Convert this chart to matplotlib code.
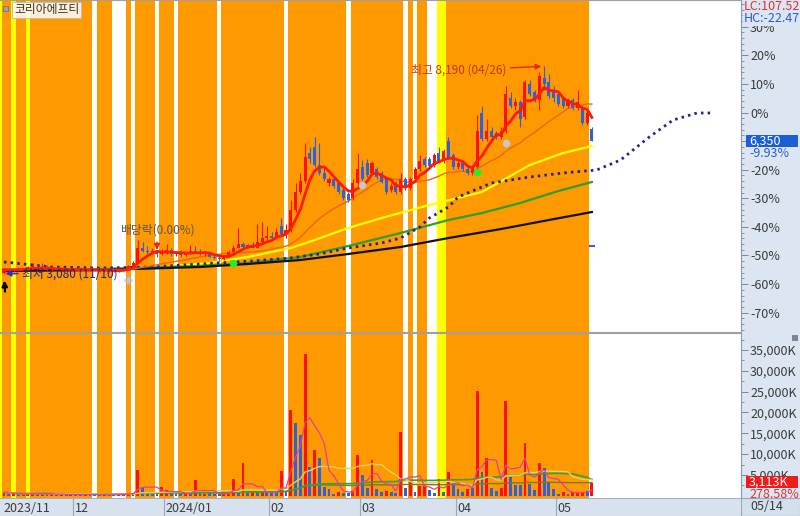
import matplotlib
matplotlib.use("Agg")
import matplotlib.pyplot as plt
from matplotlib.patches import Rectangle
import numpy as np
import pandas as pd

plt.rcParams['font.family'] = ['Liberation Sans Narrow', 'Noto Sans CJK KR', 'DejaVu Sans']

# ---------------- data ----------------
stock_name = "코리아에프티"
base_price = 7050          # previous close = 0% of the right axis
last_label = "6,350"
last_pct_label = "-9.93%"
lc_label = "LC:107.52"
hc_label = "HC:-22.47"
vol_label = "3,113K"
vol_pct_label = "278.58%"
last_date_label = "05/14"

month_labels = ["2023/11", "12", "2024/01", "02", "03", "04", "05"]
month_start = [0, 15, 34, 56, 75, 95, 116]

open_ = [3100, 3180, 3160, 3190, 3170, 3200, 3230, 3250, 3190, 3230, 3170, 3200, 3180, 3190, 3170,
         3180, 3170, 3160, 3180, 3170, 3160, 3150, 3160, 3150, 3140, 3150, 3200, 3270, 3340, 3720,
         3640, 3600, 3620, 3560,
         3620, 3650, 3560, 3600, 3540, 3580, 3640, 3610, 3570, 3600, 3500, 3460, 3440, 3500, 3620,
         3720, 3800, 3740, 3780, 3720, 3850, 3950,
         4000, 3950, 4250, 4050, 4150, 4650, 5100, 5350, 6050, 6200, 5750, 5550, 5300, 5400, 5300,
         5150, 5050, 4950, 5300,
         5700, 5800, 5550, 5650, 5550, 5400, 5150, 5300, 5100, 5400, 5200, 5400, 5650, 5900, 5900,
         5750, 6050, 5850, 6350, 6000,
         5700, 5800, 5650, 5550, 5700, 7050, 6400, 6600, 6550, 6450, 6600, 7400, 7200, 7300, 6950,
         7750, 7550, 7350, 7900, 7800, 7550,
         7500, 7400, 7200, 7350, 7150, 7150, 6800, 6650]
high_ = [3200, 3220, 3200, 3230, 3210, 3260, 3330, 3300, 3340, 3280, 3220, 3230, 3210, 3220, 3200,
         3210, 3200, 3200, 3200, 3190, 3180, 3180, 3180, 3170, 3170, 3220, 3300, 3380, 3900, 3850,
         3760, 3700, 3660, 3680,
         3800, 3700, 3640, 3650, 3620, 3780, 3750, 3680, 3640, 3620, 3560, 3520, 3520, 3650, 3780,
         4200, 3850, 3820, 3850, 4300, 4350, 4250,
         4100, 4200, 4450, 4300, 4900, 5300, 5550, 6300, 6200, 6450, 6300, 5700, 5450, 5450, 5350,
         5200, 5100, 5400, 6050,
         5870, 5900, 5850, 5700, 5600, 5450, 5300, 5350, 5550, 5450, 5450, 5700, 6000, 5950, 5950,
         6050, 6200, 6150, 6450, 6050,
         5850, 5850, 5750, 5750, 7000, 7200, 6900, 6700, 6600, 6700, 7700, 7550, 7400, 7350, 7850,
         7850, 7600, 8050, 8190, 8000, 7700,
         7550, 7450, 7400, 7400, 7600, 7200, 7100, 6700]
low_ = [3080, 3140, 3130, 3150, 3140, 3170, 3200, 3170, 3180, 3150, 3150, 3160, 3150, 3160, 3150,
        3150, 3140, 3140, 3150, 3140, 3130, 3120, 3130, 3120, 3110, 3140, 3180, 3250, 3330, 3600,
        3560, 3550, 3480, 3540,
        3560, 3520, 3520, 3500, 3510, 3560, 3580, 3540, 3520, 3480, 3430, 3400, 3420, 3480, 3600,
        3700, 3700, 3700, 3700, 3700, 3820, 3900,
        3900, 3930, 4000, 3950, 4100, 4600, 5050, 5300, 5800, 5700, 5500, 5350, 5250, 5200, 5050,
        4900, 4850, 4900, 5250,
        5350, 5450, 5500, 5400, 5300, 5050, 5100, 5050, 5050, 5150, 5150, 5350, 5600, 5700, 5650,
        5700, 5800, 5800, 5900, 5650,
        5650, 5600, 5500, 5500, 5650, 6350, 6350, 6400, 6400, 6400, 6550, 7150, 7100, 6700, 6900,
        7450, 7300, 7100, 7600, 7400, 7300,
        7200, 7150, 7150, 7100, 7100, 6750, 6750, 6350]
close_ = [3180, 3160, 3190, 3170, 3200, 3230, 3250, 3190, 3230, 3170, 3200, 3180, 3190, 3170, 3180,
          3170, 3160, 3180, 3170, 3160, 3150, 3160, 3150, 3140, 3150, 3200, 3270, 3340, 3720, 3640,
          3600, 3620, 3560, 3620,
          3650, 3560, 3600, 3540, 3580, 3640, 3610, 3570, 3600, 3500, 3460, 3440, 3500, 3620, 3720,
          3800, 3740, 3780, 3720, 3850, 3950, 4000,
          3950, 4100, 4050, 4150, 4650, 5100, 5350, 5950, 5900, 5750, 5550, 5400, 5400, 5250, 5100,
          4950, 4900, 5300, 5650,
          5420, 5500, 5800, 5450, 5330, 5100, 5250, 5100, 5400, 5200, 5400, 5650, 5850, 5750, 5720,
          6000, 5850, 6100, 5950, 5700,
          5800, 5650, 5550, 5700, 6600, 6400, 6600, 6450, 6450, 6600, 7500, 7200, 7300, 6900, 7800,
          7500, 7350, 7950, 7750, 7450, 7400,
          7250, 7200, 7350, 7150, 7300, 6800, 7050, 6350]

# volume in thousands of shares, and bar colour code (r / b)
volume_k = [900, 500, 400, 350, 450, 600, 700, 400, 650, 400, 350, 300, 350, 300, 300,
            300, 250, 300, 250, 200, 250, 300, 250, 200, 300, 450, 600, 700, 6100, 2200,
            800, 700, 600, 2000,
            1300, 600, 500, 500, 400, 600, 3900, 700, 500, 600, 500, 400, 600, 900, 4100,
            800, 7800, 700, 800, 900, 1000, 800,
            700, 800, 5900, 1200, 20700, 17500, 14600, 34100, 6800, 11000, 9000, 2000, 1700, 500, 1000,
            700, 700, 1200, 9800,
            4900, 1900, 8500, 1700, 1000, 1200, 1000, 700, 15400, 1900, 3600, 900, 2400, 2400, 1300,
            700, 4100, 1000, 5600, 3100,
            1700, 800, 1700, 1800, 25100, 5600, 9000, 1900, 1200, 1900, 22700, 4400, 2700, 2700, 12700,
            2900, 1300, 7800, 6600, 3200, 1700,
            500, 900, 500, 800, 900, 1000, 1117, 3113]
volume_dir = ("rbrbrrrbrbrbrbr" "bbrbbbrbbrrrrrb" "bbbr"
              "rbbbrbrbrbbbrrrbrbrbrb"
              "bbrbrbbrbrbbbbr" "bbrr"
              "bbrbbrbbrbrbrrbbrbrb"
              "bbrbrbrbbrrbbbrbbrbbb"
              "brbrrrbr")

# background signal colour per bar (default orange)
white_bars = [19, 23, 24, 25, 27, 32, 36, 45, 59, 72, 84, 86, 89, 90, 123]
yellow_bars = [2, 5, 91, 92]
bg_before_first = "y"

# long moving averages / shifted line at sample bars
ma60_idx = [0, 20, 33, 43, 51, 60, 65, 72, 79, 89, 100, 110, 117, 123]
ma60_val = [3167, 3192, 3242, 3340, 3488, 3710, 3907, 4203, 4449, 4770, 5090, 5756, 6052, 6224]
ma120_idx = [0, 20, 41, 51, 62, 72, 83, 93, 100, 108, 116, 123]
ma120_val = [3167, 3192, 3266, 3340, 3488, 3759, 4080, 4400, 4572, 4819, 5115, 5337]
ma240_idx = [0, 20, 41, 51, 62, 72, 83, 93, 104, 114, 123]
ma240_val = [3143, 3167, 3242, 3316, 3414, 3562, 3735, 3956, 4178, 4400, 4597]
lead_idx = [0, 10, 20, 31, 41, 52, 60, 66, 72, 79, 83, 87, 89, 93, 95, 102, 110, 117, 124, 129,
            135, 140, 145, 148]
lead_val = [3365, 3242, 3217, 3242, 3316, 3390, 3464, 3562, 3710, 3833, 3956, 4228, 4449, 4721,
            4967, 5312, 5460, 5559, 5633, 5879, 6446, 6865, 7038, 7038]

# signal markers (bar index, price)
green_sig = [(48, 3340), (99, 5583)]
gray_sig = [(75, 5263), (105, 6298)]
cross_sig = [(26, 2921)]
blue_tick = [(123, 3759)]
exdiv_idx = 32

pct_ticks = [30, 20, 10, 0, -10, -20, -30, -40, -50, -60, -70]
pct_hidden = [-10]          # covered by the last-price box in the reference
vol_ticks = [5000, 10000, 15000, 20000, 25000, 30000, 35000]

# ---------------- layout ----------------
W, H = 800, 516
fig = plt.figure(figsize=(W / 100, H / 100), dpi=100)
fig.patch.set_facecolor('white')

def fx(px):
    return px / W

def fy(py):
    return 1 - py / H

CHART_R = 741
ax = fig.add_axes([0, fy(332), fx(CHART_R), 332 / H])
axv = fig.add_axes([0, fy(498), fx(CHART_R), (498 - 333) / H])
axd = fig.add_axes([0, 0, fx(CHART_R), 18 / H])

panel_bg = '#DCE6F2'
fig.add_artist(Rectangle((fx(CHART_R), 0), 1 - fx(CHART_R), 1, transform=fig.transFigure,
                         facecolor=panel_bg, edgecolor='none', zorder=-5))
fig.add_artist(Rectangle((fx(CHART_R), 0), 1 - fx(CHART_R), 18 / H, transform=fig.transFigure,
                         facecolor='#D4DFEC', edgecolor='#9AA8BA', lw=0.8, zorder=-4))

n = len(close_)
idx = np.arange(n)
o = np.array(open_, float)
hi = np.array(high_, float)
lo = np.array(low_, float)
c = np.array(close_, float)

XL = (-0.837, 154.2)
PY = ((1 - 0.7675) * base_price, (1 + 0.3934) * base_price)
VY = (-528, 39070)

# background stripes (runs of same colour)
bg_codes = ['o'] * n
for i in white_bars:
    bg_codes[i] = 'w'
for i in yellow_bars:
    bg_codes[i] = 'y'
cmap_bg = {'o': '#FF9900', 'w': '#FFFFFF', 'y': '#FFFF00'}
for a in (ax, axv):
    a.axvspan(-1.5, -0.5, color=cmap_bg[bg_before_first], lw=0, zorder=0)
    start = 0
    for i in range(1, n + 1):
        if i == n or bg_codes[i] != bg_codes[start]:
            a.axvspan(start - 0.5, i - 0.5, color=cmap_bg[bg_codes[start]], lw=0, zorder=0)
            start = i

# ---------------- price panel ----------------
RED = '#FF1010'
BLUE = '#2F62D8'
up = c >= o
ccol = np.where(up, RED, BLUE)
ax.plot(ma60_idx, ma60_val, color='#FFFF00', lw=1.6, zorder=2)
ax.plot(ma120_idx, ma120_val, color='#2E9E2E', lw=1.6, zorder=2)
ax.plot(ma240_idx, ma240_val, color='#111111', lw=1.6, zorder=2)
ax.plot(lead_idx, lead_val, color='#23239B', lw=2.0, dashes=(0.9, 1.5), zorder=2)

ma20 = pd.Series(c).rolling(20, min_periods=1).mean()
ax.plot(idx, ma20, color='#F06510', lw=1.0, zorder=2.5)

ax.vlines(idx, lo, hi, colors=ccol, lw=0.8, zorder=3)
ax.bar(idx, np.maximum(np.abs(c - o), 25), bottom=np.minimum(o, c), width=0.64,
       color=ccol, lw=0, zorder=3)

ma5 = pd.Series(c).rolling(5, min_periods=1).mean()
ax.plot(idx, ma5, color='#FF1A00', lw=2.0, zorder=4)

for (xi, yv) in green_sig:
    ax.plot(xi, yv, 'o', ms=5.5, color='#22EE22', mec='none', zorder=5)
for (xi, yv) in gray_sig:
    ax.plot(xi, yv, 'o', ms=5.5, color='#C8C8C8', mec='none', zorder=5)
for (xi, yv) in cross_sig:
    ax.plot(xi, yv, '+', ms=6, mew=2, color='#B8C4D8', zorder=5)
for (xi, yv) in blue_tick:
    ax.plot(xi, yv, '_', ms=4, mew=1.5, color='#2F62D8', zorder=5)

kr = ['Liberation Sans Narrow', 'Noto Sans CJK KR', 'DejaVu Sans']
hi_i = int(np.argmax(hi))
lo_i = int(np.argmin(lo))
ax.annotate(f"최고 {hi[hi_i]:,.0f} (04/26)", xy=(hi_i, hi[hi_i]), xytext=(-38, -4),
            textcoords='offset pixels', ha='right', va='center', fontsize=8.5, color='#C0392B',
            family=kr, zorder=6,
            arrowprops=dict(arrowstyle='-|>', color='#E8281E', lw=1.0, shrinkA=1, shrinkB=2,
                            mutation_scale=8))
ax.annotate(f"최저 {lo[lo_i]:,.0f} (11/10)", xy=(lo_i, lo[lo_i]), xytext=(18, 0),
            textcoords='offset pixels', ha='left', va='center', fontsize=8.5, color='#202090',
            family=kr, zorder=6,
            arrowprops=dict(arrowstyle='-|>', color='#2035D0', lw=1.2, shrinkA=1, shrinkB=1,
                            mutation_scale=8))
ax.annotate('', xy=(lo_i, lo[lo_i]), xytext=(1, -18), textcoords='offset pixels',
            arrowprops=dict(arrowstyle='-|>', color='black', lw=1.6, shrinkA=0, shrinkB=5,
                            mutation_scale=8), zorder=6)
ax.annotate("배당락(0.00%)", xy=(exdiv_idx, hi[exdiv_idx]), xytext=(0, 20),
            textcoords='offset pixels', ha='center', va='center', fontsize=8.5, color='#555555',
            family=kr, zorder=6,
            arrowprops=dict(arrowstyle='-|>', color='#E8281E', lw=1.0, shrinkA=2, shrinkB=0,
                            mutation_scale=9))

ax.set_xlim(*XL)
ax.set_ylim(*PY)
ax.yaxis.tick_right()
ax.set_yticks([base_price * (1 + p / 100) for p in pct_ticks])
ax.set_yticklabels(["" if p in pct_hidden else f"{p}%" for p in pct_ticks])
ax.set_yticks([base_price * (1 + p / 100) for p in range(-76, 40, 2)], minor=True)
ax.set_xticks([])

# ---------------- volume panel ----------------
vcol = [RED if d == 'r' else BLUE for d in volume_dir]
v = np.array(volume_k, float)
axv.bar(idx, v, width=0.6, color=vcol, lw=0, zorder=3)
vs = pd.Series(v)
axv.plot(idx, vs.rolling(120, min_periods=1).mean(), color='#7A7A28', lw=1.0, zorder=4)
axv.plot(idx, vs.rolling(60, min_periods=1).mean(), color='#3C9E3C', lw=1.2, zorder=4)
axv.plot(idx, vs.rolling(20, min_periods=1).mean(), color='#E6D25A', lw=1.0, zorder=4)
axv.plot(idx, vs.rolling(5, min_periods=1).mean(), color='#E0409F', lw=0.9, zorder=4)
axv.set_xlim(*XL)
axv.set_ylim(*VY)
axv.yaxis.tick_right()
axv.set_yticks(vol_ticks)
axv.set_yticklabels([f"{t:,}K" for t in vol_ticks])
axv.set_yticks(list(range(2500, 39000, 2500)), minor=True)
axv.set_xticks([])

for a in (ax, axv):
    for s in ('left', 'bottom'):
        a.spines[s].set_visible(False)
    a.spines['right'].set_color('#8C9AAE')
    a.spines['top'].set_color('#A0A0A0')
    a.spines['right'].set_linewidth(0.8)
    a.spines['top'].set_linewidth(0.8)
    a.tick_params(axis='y', which='major', length=5, width=0.7, color='#7A8699', pad=1.5,
                  labelsize=9, labelcolor='#3A3A3A')
    a.tick_params(axis='y', which='minor', length=2.5, width=0.6, color='#7A8699')
ax.spines['bottom'].set_visible(True)
ax.spines['bottom'].set_color('#A0A0A0')
ax.spines['bottom'].set_linewidth(0.8)

# ---------------- date row ----------------
axd.set_facecolor('#D8E2EE')
axd.set_xlim(*XL)
axd.set_ylim(0, 1)
axd.set_xticks([])
axd.set_yticks([])
for s in axd.spines.values():
    s.set_visible(False)
axd.axhline(1, color='#9AA8BA', lw=1.2)
for k, (mi, lab) in enumerate(zip(month_start, month_labels)):
    if k > 0:
        axd.vlines(mi - 0.5, 0, 1, color='#9AA8BA', lw=0.8)
    axd.text(mi - 0.2, 0.42, lab, ha='left', va='center', fontsize=9, color='#3A3A3A')

# ---------------- labels on right panel ----------------
fig.text(fx(744), fy(7), lc_label, ha='left', va='center', fontsize=9, color='#E03030')
fig.text(fx(744), fy(19), hc_label, ha='left', va='center', fontsize=9, color='#2D5CC8',
         bbox=dict(boxstyle='square,pad=0.05', fc=panel_bg, ec='none'))
fig.add_artist(Rectangle((fx(746), fy(147)), fx(798) - fx(746), 12 / H, transform=fig.transFigure,
                         facecolor='#1B5FD6', edgecolor='none', zorder=9))
fig.text(fx(749), fy(141), last_label, ha='left', va='center', fontsize=9, color='white', zorder=10)
fig.text(fx(749), fy(153), last_pct_label, ha='left', va='center', fontsize=9, color='#2D5CC8',
         zorder=10)
fig.add_artist(Rectangle((fx(746), fy(488)), fx(798) - fx(746), 12 / H, transform=fig.transFigure,
                         facecolor='#EE1C1C', edgecolor='none', zorder=9))
fig.text(fx(749), fy(482), vol_label, ha='left', va='center', fontsize=9, color='white', zorder=10)
fig.text(fx(749), fy(494), vol_pct_label, ha='left', va='center', fontsize=9, color='#E03030',
         zorder=10)
fig.text(fx(750), fy(507), last_date_label, ha='left', va='center', fontsize=9, color='#3A3A3A')

# title box
fig.text(fx(14), fy(10), stock_name, ha='left', va='center', fontsize=8.5, color='#333333',
         family=kr, zorder=10,
         bbox=dict(boxstyle='square,pad=0.15', fc=(1, 1, 1, 0.85), ec='#BBBBBB', lw=0.6))
fig.add_artist(Rectangle((fx(3), fy(11)), 5 / W, 5 / H, transform=fig.transFigure,
                         facecolor='#9AA0B0', edgecolor='#666A80', lw=0.5, zorder=10))
fig.add_artist(Rectangle((fx(792), fy(341)), 6 / W, 6 / H, transform=fig.transFigure,
                         facecolor='#7C8696', edgecolor='none', zorder=10))

fig.savefig('out.png', dpi=100)
